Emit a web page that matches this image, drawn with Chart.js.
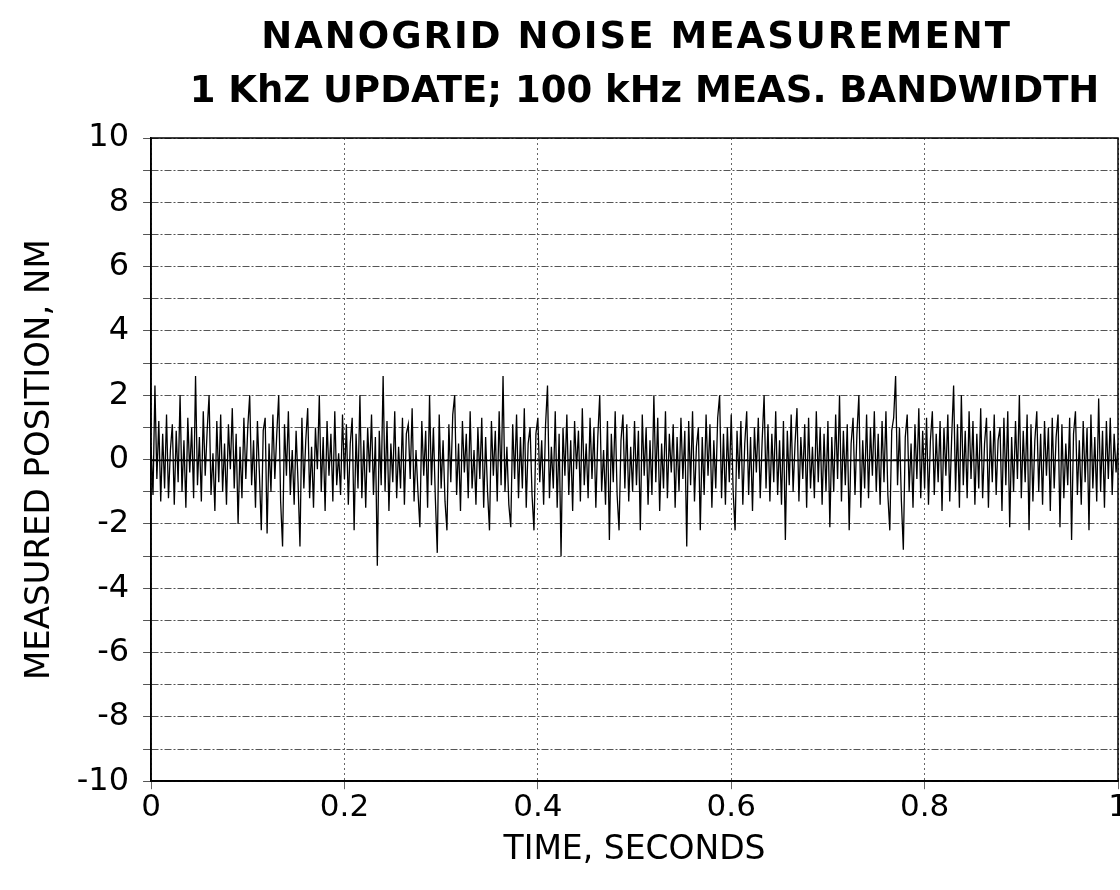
<!DOCTYPE html>
<html>
<head>
<meta charset="utf-8">
<title>Nanogrid noise measurement</title>
<script src="https://cdn.jsdelivr.net/npm/chart.js@4/dist/chart.umd.min.js"></script>
<style>
  html, body { margin: 0; padding: 0; background: #fff; }
  #wrap { width: 1120px; height: 890px; }
</style>
</head>
<body>
<div id="wrap"><canvas id="noiseChart" width="1120" height="890"></canvas></div>
<script>
// ---------- data ----------
var titleLines = ['NANOGRID NOISE MEASUREMENT', '1 KhZ UPDATE; 100 kHz MEAS. BANDWIDTH'];
var xTitle = 'TIME, SECONDS';
var yTitle = 'MEASURED POSITION, NM';

var sampleStep = 0.002;   // seconds between plotted samples
var xTicks = [0, 0.2, 0.4, 0.6, 0.8, 1];
var yTicks = [-10, -8, -6, -4, -2, 0, 2, 4, 6, 8, 10];

// measured position, nm (one value per sample)
var position = [
  0.4,-1.1,2.3,-0.6,1.2,-1.3,0.8,-0.9,1.4,-1.2,0.3,1.1,-1.4,0.9,-0.7,2.0,-1.0,0.6,-1.5,1.3,-0.4,1.0,-1.2,2.6,-0.8,
  0.7,-1.3,1.5,-0.5,0.9,2.0,-1.1,0.2,-1.6,1.2,-0.7,1.4,-1.0,0.5,-1.4,1.1,-0.3,1.6,-0.9,0.8,-2.0,0.4,-1.2,1.3,-0.6,
  1.0,2.0,-0.8,0.6,-1.5,1.2,-0.4,-2.2,0.9,1.3,-2.3,0.5,-1.0,1.4,-0.6,0.8,2.0,-1.3,-2.7,1.1,-0.5,1.5,-1.1,0.3,-1.4,
  0.9,-0.7,-2.7,1.3,-0.9,0.6,1.6,-1.2,0.4,-1.5,1.0,-0.3,2.0,-1.0,0.7,-1.6,1.2,-0.5,0.8,-1.3,1.5,-0.8,0.2,-1.1,1.4,
  -0.6,1.1,-1.4,0.5,1.3,-2.2,0.8,-0.9,2.0,-1.2,0.6,-1.5,1.0,-0.4,1.4,-1.1,0.7,-3.3,0.9,-0.8,2.6,-1.0,1.2,-1.6,0.5,
  -0.7,1.5,-1.2,0.4,-0.9,1.3,-1.4,0.8,1.1,-0.6,1.6,-1.3,0.3,-1.0,-2.1,1.2,-0.5,0.9,-1.5,2.0,-0.8,1.0,-1.2,-2.9,1.4,
  -0.9,0.6,-1.3,-2.2,1.1,-0.7,1.4,2.0,-1.1,0.5,-1.6,1.2,-0.4,0.8,-1.2,1.5,-0.9,0.3,-1.4,1.0,-0.6,1.3,-1.5,0.7,-1.0,
  -2.2,1.2,-0.5,0.9,-1.3,1.5,-0.8,2.6,-1.0,0.4,-1.4,-2.1,1.1,-0.6,1.4,-1.2,0.7,-0.9,1.6,-1.5,0.5,1.0,-1.1,-2.2,0.8,
  1.3,-0.7,0.6,-1.4,1.1,2.3,-1.2,0.4,-0.9,1.5,-1.5,0.8,-3.0,1.0,-0.5,1.4,-1.1,0.6,-1.6,1.2,-0.3,0.9,-1.3,1.6,-0.8,
  0.5,-1.2,1.3,-0.6,1.0,-1.5,0.7,2.0,-1.0,0.3,-1.4,1.2,-2.5,0.8,-0.7,1.5,-1.1,-2.2,0.6,1.4,-0.9,1.1,-1.3,0.4,-1.0,
  1.2,-0.8,0.9,-2.2,1.4,-0.5,1.0,-1.4,0.6,-1.1,2.0,-0.7,1.3,-1.6,0.5,-0.9,1.5,-1.2,0.8,-0.4,1.1,-1.5,0.7,-1.0,1.3,
  -0.6,0.9,-2.7,1.2,-0.8,1.5,-1.3,0.4,1.0,-2.2,0.7,-1.1,1.4,-0.5,1.1,-1.5,0.6,-0.9,1.3,2.0,-1.2,0.8,-1.4,1.0,-0.7,
  1.4,-1.0,-2.2,0.9,-0.6,1.2,-1.4,0.5,1.5,-1.1,0.7,-1.6,1.0,-0.4,1.3,-1.2,0.6,2.0,-0.9,1.1,-1.3,0.8,-0.7,1.5,-1.1,
  0.6,-1.4,1.2,-2.5,0.9,-0.8,1.4,-1.0,0.5,1.6,-1.3,0.7,-0.6,1.1,-1.5,1.3,-0.9,0.4,-1.2,1.5,-0.7,1.0,-1.4,0.8,-1.0,
  1.2,-2.1,0.7,-1.0,1.4,-0.6,2.0,-1.3,0.9,-0.8,1.1,-2.2,0.5,1.3,-1.1,0.8,2.0,-1.5,0.6,-0.9,1.4,-1.2,1.0,-0.5,1.5,
  -1.0,0.8,-1.4,1.2,-0.7,1.5,-1.1,-2.2,0.9,1.3,2.6,-0.8,1.0,-1.3,-2.8,0.7,1.4,-1.0,0.5,-1.5,1.1,-0.6,1.6,-1.2,0.9,
  -0.9,1.3,-1.4,0.6,1.5,-1.1,0.8,-0.7,1.2,-1.6,1.0,-0.5,1.4,-1.3,0.7,2.3,-1.0,1.1,-1.5,2.0,-0.8,0.9,-1.2,1.5,-0.6,
  1.2,-1.4,0.8,-0.9,1.6,-1.2,0.5,1.3,-1.5,0.9,-0.7,1.4,-1.1,0.6,1.0,-1.6,1.3,-0.8,1.5,-2.1,0.7,-1.0,1.2,-0.6,2.0,
  -1.2,0.9,-0.7,1.4,-2.2,1.1,-1.3,0.6,1.5,-1.0,0.8,-1.4,1.2,-0.5,1.0,-1.6,1.3,-0.9,0.7,1.4,-2.1,1.1,-1.2,0.5,-0.8,
  1.3,-2.5,0.8,1.5,-1.1,0.6,-1.4,1.2,-0.7,1.0,-2.2,1.4,-0.9,0.7,-1.3,1.9,-1.0,0.9,-1.5,1.2,-0.6,1.3,-1.1,0.8,-0.4,
  0.5
];

var points = position.map(function(v, i){ return {x: +(i * sampleStep).toFixed(3), y: v}; });

var FONT = "'DejaVu Sans', Arial, Helvetica, sans-serif";

// two-line heading centred over the plot area
var headingPlugin = {
  id: 'heading',
  afterDraw: function(chart){
    var ctx = chart.ctx, a = chart.chartArea;
    var cx = (a.left + a.right) / 2;
    ctx.save();
    ctx.fillStyle = '#000';
    ctx.textAlign = 'center';
    ctx.textBaseline = 'middle';
    ctx.font = 'bold 37px ' + FONT;
    ctx.letterSpacing = '2px';
    ctx.fillText(titleLines[0], cx + 2, 38);
    ctx.letterSpacing = '0px';
    ctx.fillText(titleLines[1], cx + 10, 92);
    ctx.restore();
  }
};

// frame + solid zero line drawn on top of the data
var framePlugin = {
  id: 'frame',
  afterDraw: function(chart){
    var ctx = chart.ctx, a = chart.chartArea, y = chart.scales.y;
    ctx.save();
    ctx.strokeStyle = '#000';
    ctx.lineWidth = 1.5;
    ctx.strokeRect(a.left, a.top, a.right - a.left, a.bottom - a.top);
    var y0 = Math.round(y.getPixelForValue(0)) + 0.5;
    ctx.beginPath();
    ctx.moveTo(a.left, y0);
    ctx.lineTo(a.right, y0);
    ctx.stroke();
    ctx.restore();
  }
};

var ctx = document.getElementById('noiseChart').getContext('2d');
var myChart = new Chart(ctx, {
  type: 'scatter',
  data: {
    datasets: [{
      data: points,
      showLine: true,
      borderColor: '#000',
      borderWidth: 1.3,
      pointRadius: 0,
      tension: 0
    }]
  },
  options: {
    responsive: false,
    animation: false,
    layout: { padding: { left: 20, right: 2, top: 138, bottom: 20 } },
    plugins: {
      legend: { display: false },
      tooltip: { enabled: false },
      title: { display: false }
    },
    scales: {
      x: {
        type: 'linear',
        min: 0,
        max: 1,
        afterBuildTicks: function(scale){ scale.ticks = xTicks.map(function(v){ return {value: v}; }); },
        afterFit: function(scale){ scale.paddingRight = 0; },
        ticks: {
          color: '#000',
          font: { family: FONT, size: 31 },
          padding: 0,
          maxRotation: 0,
          autoSkip: false,
          callback: function(v){ return v === 0 || v === 1 ? String(v) : v.toFixed(1); }
        },
        grid: { color: '#666', lineWidth: 1, tickLength: 8, tickColor: '#666' },
        border: { display: true, color: '#000', width: 1.5, dash: [2, 3] },
        title: {
          display: true,
          text: xTitle,
          color: '#000',
          font: { family: FONT, size: 33 },
          padding: { top: 4, bottom: 0 }
        }
      },
      y: {
        type: 'linear',
        min: -10,
        max: 10,
        ticks: {
          stepSize: 1,
          autoSkip: false,
          color: '#000',
          font: { family: FONT, size: 32 },
          padding: 14,
          callback: function(v){ return yTicks.indexOf(v) >= 0 ? String(v) : ''; }
        },
        grid: { color: '#555', lineWidth: 1, tickLength: 8, tickColor: '#555' },
        border: { display: true, color: '#000', width: 1.5, dash: [7, 2, 2, 2] },
        title: {
          display: true,
          text: yTitle,
          color: '#000',
          font: { family: FONT, size: 34 },
          padding: { top: 0, bottom: 2 }
        }
      }
    }
  },
  plugins: [framePlugin, headingPlugin]
});
</script>
</body>
</html>
